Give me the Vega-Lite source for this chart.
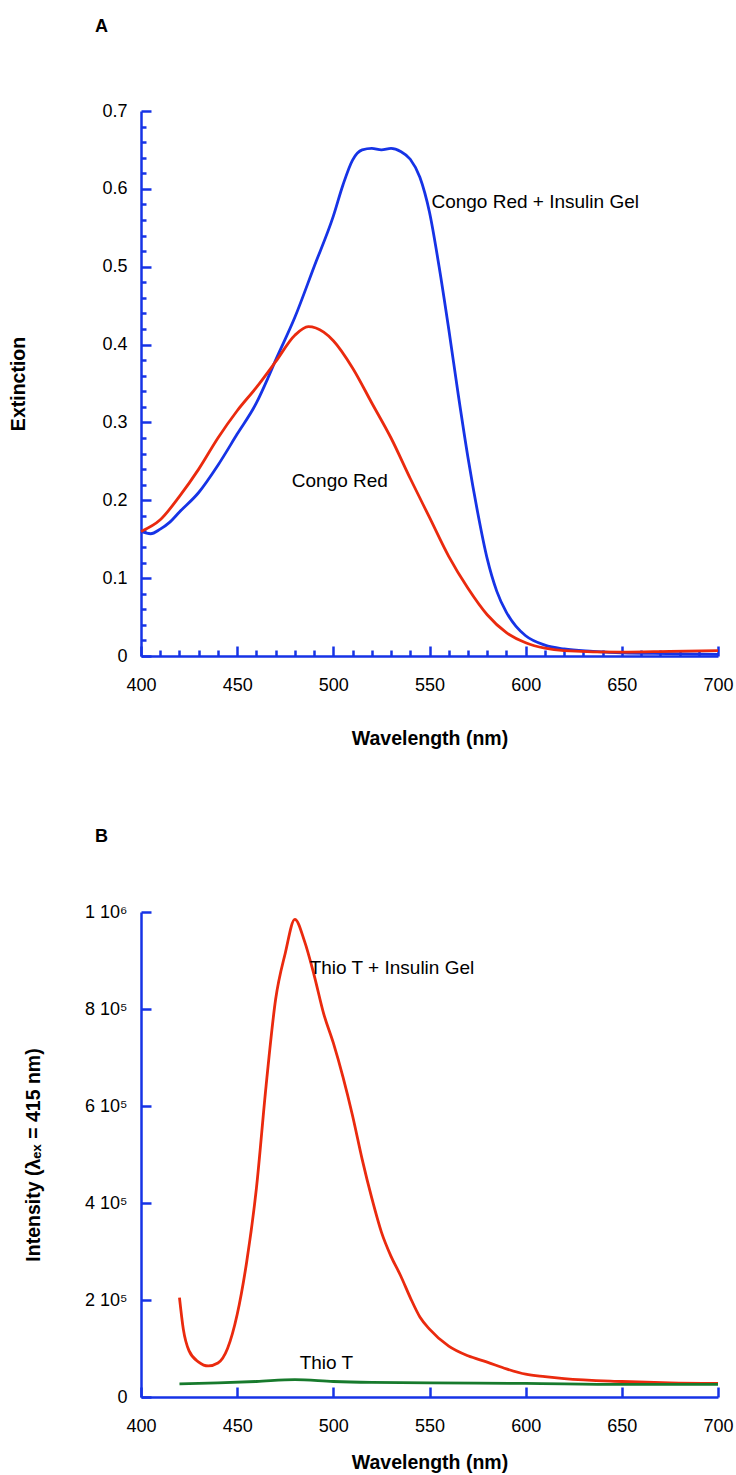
{
  "$schema": "https://vega.github.io/schema/vega-lite/v6.json",
  "background": "white",
  "padding": {"left": 8, "top": 18, "right": 12, "bottom": 2},
  "spacing": 80,
  "config": {
    "view": {"stroke": null},
    "font": "Liberation Sans",
    "axis": {
      "grid": false,
      "domainColor": "#1633e6",
      "domainWidth": 2.5,
      "tickColor": "#1633e6",
      "tickWidth": 2.5,
      "labelColor": "black",
      "labelFontSize": 18,
      "labelFont": "Liberation Sans",
      "labelFlush": false,
      "labelOverlap": false,
      "titleFont": "Liberation Sans",
      "titleFontSize": 19.5,
      "titleFontWeight": "bold",
      "titleColor": "black"
    },
    "title": {"fontSize": 18, "fontWeight": "bold", "anchor": "start", "frame": "group", "color": "black"}
  },
  "datasets": {
    "a": [
      {"w": 400, "v": 0.16, "s": "Congo Red + Insulin Gel"},
      {"w": 405, "v": 0.157, "s": "Congo Red + Insulin Gel"},
      {"w": 410, "v": 0.163, "s": "Congo Red + Insulin Gel"},
      {"w": 415, "v": 0.172, "s": "Congo Red + Insulin Gel"},
      {"w": 420, "v": 0.185, "s": "Congo Red + Insulin Gel"},
      {"w": 430, "v": 0.21, "s": "Congo Red + Insulin Gel"},
      {"w": 440, "v": 0.245, "s": "Congo Red + Insulin Gel"},
      {"w": 450, "v": 0.285, "s": "Congo Red + Insulin Gel"},
      {"w": 460, "v": 0.325, "s": "Congo Red + Insulin Gel"},
      {"w": 466, "v": 0.357, "s": "Congo Red + Insulin Gel"},
      {"w": 470, "v": 0.38, "s": "Congo Red + Insulin Gel"},
      {"w": 480, "v": 0.435, "s": "Congo Red + Insulin Gel"},
      {"w": 490, "v": 0.5, "s": "Congo Red + Insulin Gel"},
      {"w": 500, "v": 0.565, "s": "Congo Red + Insulin Gel"},
      {"w": 505, "v": 0.605, "s": "Congo Red + Insulin Gel"},
      {"w": 510, "v": 0.637, "s": "Congo Red + Insulin Gel"},
      {"w": 515, "v": 0.65, "s": "Congo Red + Insulin Gel"},
      {"w": 520, "v": 0.652, "s": "Congo Red + Insulin Gel"},
      {"w": 525, "v": 0.65, "s": "Congo Red + Insulin Gel"},
      {"w": 530, "v": 0.652, "s": "Congo Red + Insulin Gel"},
      {"w": 535, "v": 0.648, "s": "Congo Red + Insulin Gel"},
      {"w": 540, "v": 0.638, "s": "Congo Red + Insulin Gel"},
      {"w": 545, "v": 0.615, "s": "Congo Red + Insulin Gel"},
      {"w": 550, "v": 0.57, "s": "Congo Red + Insulin Gel"},
      {"w": 555, "v": 0.5, "s": "Congo Red + Insulin Gel"},
      {"w": 560, "v": 0.42, "s": "Congo Red + Insulin Gel"},
      {"w": 565, "v": 0.335, "s": "Congo Red + Insulin Gel"},
      {"w": 570, "v": 0.255, "s": "Congo Red + Insulin Gel"},
      {"w": 575, "v": 0.185, "s": "Congo Red + Insulin Gel"},
      {"w": 580, "v": 0.125, "s": "Congo Red + Insulin Gel"},
      {"w": 585, "v": 0.083, "s": "Congo Red + Insulin Gel"},
      {"w": 590, "v": 0.056, "s": "Congo Red + Insulin Gel"},
      {"w": 595, "v": 0.038, "s": "Congo Red + Insulin Gel"},
      {"w": 600, "v": 0.026, "s": "Congo Red + Insulin Gel"},
      {"w": 610, "v": 0.014, "s": "Congo Red + Insulin Gel"},
      {"w": 620, "v": 0.009, "s": "Congo Red + Insulin Gel"},
      {"w": 635, "v": 0.006, "s": "Congo Red + Insulin Gel"},
      {"w": 650, "v": 0.004, "s": "Congo Red + Insulin Gel"},
      {"w": 675, "v": 0.003, "s": "Congo Red + Insulin Gel"},
      {"w": 700, "v": 0.002, "s": "Congo Red + Insulin Gel"},
      {"w": 400, "v": 0.16, "s": "Congo Red"},
      {"w": 410, "v": 0.175, "s": "Congo Red"},
      {"w": 420, "v": 0.205, "s": "Congo Red"},
      {"w": 430, "v": 0.24, "s": "Congo Red"},
      {"w": 440, "v": 0.28, "s": "Congo Red"},
      {"w": 450, "v": 0.315, "s": "Congo Red"},
      {"w": 460, "v": 0.345, "s": "Congo Red"},
      {"w": 470, "v": 0.378, "s": "Congo Red"},
      {"w": 480, "v": 0.412, "s": "Congo Red"},
      {"w": 487, "v": 0.423, "s": "Congo Red"},
      {"w": 495, "v": 0.416, "s": "Congo Red"},
      {"w": 500, "v": 0.405, "s": "Congo Red"},
      {"w": 510, "v": 0.37, "s": "Congo Red"},
      {"w": 520, "v": 0.325, "s": "Congo Red"},
      {"w": 530, "v": 0.28, "s": "Congo Red"},
      {"w": 540, "v": 0.228, "s": "Congo Red"},
      {"w": 550, "v": 0.178, "s": "Congo Red"},
      {"w": 560, "v": 0.128, "s": "Congo Red"},
      {"w": 570, "v": 0.087, "s": "Congo Red"},
      {"w": 580, "v": 0.053, "s": "Congo Red"},
      {"w": 590, "v": 0.03, "s": "Congo Red"},
      {"w": 600, "v": 0.017, "s": "Congo Red"},
      {"w": 610, "v": 0.01, "s": "Congo Red"},
      {"w": 620, "v": 0.007, "s": "Congo Red"},
      {"w": 650, "v": 0.005, "s": "Congo Red"},
      {"w": 675, "v": 0.006, "s": "Congo Red"},
      {"w": 700, "v": 0.007, "s": "Congo Red"}
    ],
    "alab": [
      {"w": 551, "v": 0.583, "t": "Congo Red + Insulin Gel"},
      {"w": 478.4, "v": 0.225, "t": "Congo Red"}
    ],
    "b": [
      {"w": 420, "v": 205000, "s": "Thio T + Insulin Gel"},
      {"w": 422, "v": 140000, "s": "Thio T + Insulin Gel"},
      {"w": 425, "v": 95000, "s": "Thio T + Insulin Gel"},
      {"w": 430, "v": 72000, "s": "Thio T + Insulin Gel"},
      {"w": 435, "v": 64000, "s": "Thio T + Insulin Gel"},
      {"w": 440, "v": 70000, "s": "Thio T + Insulin Gel"},
      {"w": 445, "v": 100000, "s": "Thio T + Insulin Gel"},
      {"w": 450, "v": 170000, "s": "Thio T + Insulin Gel"},
      {"w": 455, "v": 280000, "s": "Thio T + Insulin Gel"},
      {"w": 460, "v": 430000, "s": "Thio T + Insulin Gel"},
      {"w": 465, "v": 640000, "s": "Thio T + Insulin Gel"},
      {"w": 470, "v": 820000, "s": "Thio T + Insulin Gel"},
      {"w": 475, "v": 915000, "s": "Thio T + Insulin Gel"},
      {"w": 480, "v": 985000, "s": "Thio T + Insulin Gel"},
      {"w": 485, "v": 940000, "s": "Thio T + Insulin Gel"},
      {"w": 490, "v": 870000, "s": "Thio T + Insulin Gel"},
      {"w": 495, "v": 790000, "s": "Thio T + Insulin Gel"},
      {"w": 500, "v": 730000, "s": "Thio T + Insulin Gel"},
      {"w": 505, "v": 660000, "s": "Thio T + Insulin Gel"},
      {"w": 510, "v": 580000, "s": "Thio T + Insulin Gel"},
      {"w": 515, "v": 490000, "s": "Thio T + Insulin Gel"},
      {"w": 520, "v": 410000, "s": "Thio T + Insulin Gel"},
      {"w": 525, "v": 340000, "s": "Thio T + Insulin Gel"},
      {"w": 530, "v": 290000, "s": "Thio T + Insulin Gel"},
      {"w": 535, "v": 250000, "s": "Thio T + Insulin Gel"},
      {"w": 540, "v": 205000, "s": "Thio T + Insulin Gel"},
      {"w": 545, "v": 165000, "s": "Thio T + Insulin Gel"},
      {"w": 550, "v": 140000, "s": "Thio T + Insulin Gel"},
      {"w": 560, "v": 105000, "s": "Thio T + Insulin Gel"},
      {"w": 570, "v": 85000, "s": "Thio T + Insulin Gel"},
      {"w": 580, "v": 72000, "s": "Thio T + Insulin Gel"},
      {"w": 590, "v": 58000, "s": "Thio T + Insulin Gel"},
      {"w": 600, "v": 47000, "s": "Thio T + Insulin Gel"},
      {"w": 610, "v": 42000, "s": "Thio T + Insulin Gel"},
      {"w": 620, "v": 38000, "s": "Thio T + Insulin Gel"},
      {"w": 650, "v": 32000, "s": "Thio T + Insulin Gel"},
      {"w": 675, "v": 29000, "s": "Thio T + Insulin Gel"},
      {"w": 700, "v": 28000, "s": "Thio T + Insulin Gel"},
      {"w": 420, "v": 27000, "s": "Thio T"},
      {"w": 440, "v": 29000, "s": "Thio T"},
      {"w": 460, "v": 32000, "s": "Thio T"},
      {"w": 480, "v": 36000, "s": "Thio T"},
      {"w": 500, "v": 32000, "s": "Thio T"},
      {"w": 520, "v": 30000, "s": "Thio T"},
      {"w": 550, "v": 29000, "s": "Thio T"},
      {"w": 600, "v": 28000, "s": "Thio T"},
      {"w": 650, "v": 26000, "s": "Thio T"},
      {"w": 700, "v": 26000, "s": "Thio T"}
    ],
    "blab": [
      {"w": 487.7, "v": 884500, "t": "Thio T + Insulin Gel"},
      {"w": 482.5, "v": 70100, "t": "Thio T"}
    ]
  },
  "vconcat": [
    {
      "width": 577,
      "height": 545,
      "title": {"text": "A", "dx": -46, "offset": 66},
      "encoding": {
        "x": {"field": "w", "type": "quantitative", "title": "Wavelength (nm)",
          "scale": {"domain": [400, 700], "nice": false, "zero": false},
          "axis": {
            "values": [400,410,420,430,440,450,460,470,480,490,500,510,520,530,540,550,560,570,580,590,600,610,620,630,640,650,660,670,680,690,700],
            "labelExpr": "datum.value % 50 === 0 ? datum.label : ''",
            "tickSize": {"condition": {"test": "datum.value % 50 === 0", "value": -10}, "value": -6},
            "labelPadding": 30,
            "titlePadding": 31
          }
        },
        "y": {"field": "v", "type": "quantitative", "title": "Extinction",
          "scale": {"domain": [0, 0.7], "nice": false},
          "axis": {
            "values": [0,0.02,0.04,0.06,0.08,0.1,0.12,0.14,0.16,0.18,0.2,0.22,0.24,0.26,0.28,0.3,0.32,0.34,0.36,0.38,0.4,0.42,0.44,0.46,0.48,0.5,0.52,0.54,0.56,0.58,0.6,0.62,0.64,0.66,0.68,0.7],
            "labelExpr": "abs(datum.value*10 - round(datum.value*10)) < 0.000001 ? toString(round(datum.value*10)/10) : ''",
            "tickSize": {"condition": {"test": "abs(datum.value*10 - round(datum.value*10)) < 0.000001", "value": -10}, "value": -5},
            "labelPadding": 24,
            "titleX": -123,
            "titleBaseline": "middle"
          }
        }
      },
      "layer": [
        {
          "data": {"name": "a"},
          "mark": {"type": "line", "strokeWidth": 2.8, "interpolate": "monotone"},
          "encoding": {
            "color": {"field": "s", "type": "nominal", "legend": null,
              "scale": {"domain": ["Congo Red + Insulin Gel", "Congo Red", "Thio T + Insulin Gel", "Thio T"], "range": ["#1633e6", "#ea2a0e", "#ea2a0e", "#177a2c"]}}
          }
        },
        {
          "data": {"name": "alab"},
          "mark": {"type": "text", "align": "left", "baseline": "middle", "fontSize": 19, "font": "Liberation Sans", "color": "black"},
          "encoding": {"text": {"field": "t"}}
        }
      ]
    },
    {
      "width": 577,
      "height": 485,
      "title": {"text": "B", "dx": -46, "offset": 57},
      "encoding": {
        "x": {"field": "w", "type": "quantitative", "title": "Wavelength (nm)",
          "scale": {"domain": [400, 700], "nice": false, "zero": false},
          "axis": {
            "values": [400,450,500,550,600,650,700],
            "tickSize": -10,
            "labelPadding": 30,
            "titlePadding": 18
          }
        },
        "y": {"field": "v", "type": "quantitative", "title": "Intensity (λₑₓ = 415 nm)",
          "scale": {"domain": [0, 1000000], "nice": false},
          "axis": {
            "values": [0, 200000, 400000, 600000, 800000, 1000000],
            "labelExpr": "datum.value == 0 ? '0' : datum.value >= 1000000 ? '1 10⁶' : toString(round(datum.value/100000)) + ' 10⁵'",
            "tickSize": -10,
            "labelPadding": 24,
            "titleX": -108,
            "titleBaseline": "middle"
          }
        }
      },
      "layer": [
        {
          "data": {"name": "b"},
          "mark": {"type": "line", "strokeWidth": 2.8, "interpolate": "monotone"},
          "encoding": {
            "color": {"field": "s", "type": "nominal", "legend": null,
              "scale": {"domain": ["Congo Red + Insulin Gel", "Congo Red", "Thio T + Insulin Gel", "Thio T"], "range": ["#1633e6", "#ea2a0e", "#ea2a0e", "#177a2c"]}}
          }
        },
        {
          "data": {"name": "blab"},
          "mark": {"type": "text", "align": "left", "baseline": "middle", "fontSize": 19, "font": "Liberation Sans", "color": "black"},
          "encoding": {"text": {"field": "t"}}
        }
      ]
    }
  ]
}
